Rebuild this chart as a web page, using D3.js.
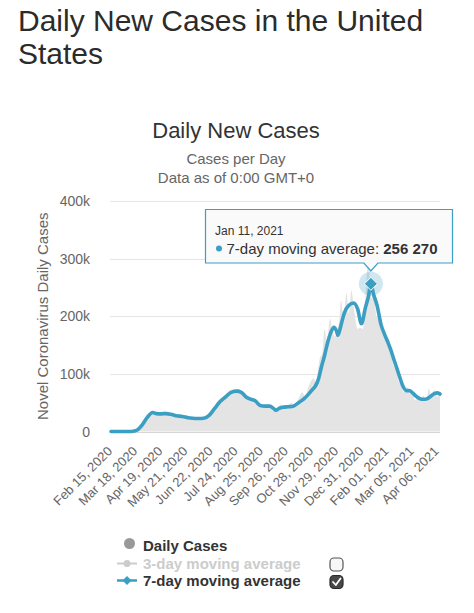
<!DOCTYPE html>
<html><head><meta charset="utf-8">
<script src="https://cdn.jsdelivr.net/npm/d3@7"></script>
<style>
html,body{margin:0;padding:0;background:#fff;}
svg{display:block;font-family:"Liberation Sans",Arial,Helvetica,sans-serif;}
</style></head><body>
<svg id="chart" width="474" height="613"></svg>
<script>
// ---- data ----
const avg7Dates = ["2020-02-15","2020-03-08","2020-03-16","2020-03-20","2020-03-26","2020-04-01","2020-04-08","2020-04-13","2020-04-19","2020-04-25","2020-05-01","2020-05-08","2020-05-16","2020-05-23","2020-05-29","2020-06-05","2020-06-12","2020-06-19","2020-06-26","2020-07-03","2020-07-10","2020-07-17","2020-07-24","2020-07-30","2020-08-05","2020-08-11","2020-08-17","2020-08-23","2020-08-29","2020-09-04","2020-09-09","2020-09-12","2020-09-16","2020-09-21","2020-09-28","2020-10-04","2020-10-12","2020-10-18","2020-10-23","2020-10-28","2020-11-01","2020-11-05","2020-11-09","2020-11-13","2020-11-17","2020-11-21","2020-11-25","2020-11-28","2020-11-30","2020-12-04","2020-12-08","2020-12-14","2020-12-20","2020-12-25","2020-12-30","2021-01-04","2021-01-08","2021-01-11","2021-01-14","2021-01-19","2021-01-24","2021-01-28","2021-02-01","2021-02-05","2021-02-09","2021-02-13","2021-02-17","2021-02-21","2021-02-25","2021-03-01","2021-03-05","2021-03-09","2021-03-13","2021-03-17","2021-03-21","2021-03-25","2021-03-29","2021-04-02","2021-04-06","2021-04-09"];
const avg7Values = [0,0,1000,3000,12000,24000,33000,31000,30500,31000,30000,27500,26000,24000,23000,22500,23000,28000,40000,52000,60000,68000,70000,68000,60000,56000,53000,45000,44000,44000,40000,37000,40000,42000,43000,44000,51000,57000,64000,72000,78000,90000,112000,132000,155000,172000,181000,175000,167000,185000,205000,219000,223000,213000,187000,215000,235000,256270,240000,218000,185000,170000,157000,143000,126000,110000,93000,78000,71000,71000,67000,62000,58000,56000,56000,58000,62000,66000,67000,65000];

const dailyDates = ["2020-02-15","2020-03-10","2020-03-20","2020-03-27","2020-04-03","2020-04-07","2020-04-10","2020-04-14","2020-04-18","2020-04-24","2020-04-28","2020-05-02","2020-05-08","2020-05-14","2020-05-20","2020-05-28","2020-06-04","2020-06-10","2020-06-18","2020-06-25","2020-07-02","2020-07-10","2020-07-16","2020-07-20","2020-07-24","2020-07-30","2020-08-04","2020-08-08","2020-08-14","2020-08-20","2020-08-26","2020-09-01","2020-09-05","2020-09-08","2020-09-14","2020-09-18","2020-09-25","2020-10-02","2020-10-05","2020-10-10","2020-10-16","2020-10-19","2020-10-24","2020-10-30","2020-11-02","2020-11-07","2020-11-10","2020-11-13","2020-11-16","2020-11-20","2020-11-23","2020-11-26","2020-11-28","2020-12-02","2020-12-04","2020-12-07","2020-12-11","2020-12-14","2020-12-17","2020-12-21","2020-12-25","2020-12-28","2021-01-01","2021-01-03","2021-01-08","2021-01-11","2021-01-15","2021-01-18","2021-01-21","2021-01-25","2021-01-29","2021-02-01","2021-02-05","2021-02-08","2021-02-12","2021-02-15","2021-02-19","2021-02-22","2021-02-26","2021-03-01","2021-03-05","2021-03-08","2021-03-12","2021-03-15","2021-03-19","2021-03-22","2021-03-26","2021-03-29","2021-04-02","2021-04-05","2021-04-09"];
const dailyValues = [0,0,5000,19000,31000,30000,35000,29000,33000,36000,28000,31000,28000,26000,24000,23000,24000,22500,29000,40000,54000,65000,72000,65000,74000,70000,58000,60000,57000,47000,44000,43000,47000,36000,39000,47000,44000,50000,44000,55000,68000,60000,80000,92000,86000,128000,135000,178000,158000,196000,175000,165000,168000,198000,228000,200000,240000,205000,245000,208000,178000,180000,178000,212000,300000,232000,240000,200000,195000,172000,165000,150000,140000,118000,108000,88000,80000,68000,78000,65000,68000,54000,62000,55000,62000,52000,75000,58000,72000,60000,68000];

const xTickLabels = ["Feb 15, 2020","Mar 18, 2020","Apr 19, 2020","May 21, 2020","Jun 22, 2020","Jul 24, 2020","Aug 25, 2020","Sep 26, 2020","Oct 28, 2020","Nov 29, 2020","Dec 31, 2020","Feb 01, 2021","Mar 05, 2021","Apr 06, 2021"];
const yTickValues = [0,100000,200000,300000,400000];
const legendLabels = ["Daily Cases","3-day moving average","7-day moving average"];
const tooltipDate = "Jan 11, 2021";
const tooltipSeries = "7-day moving average";
const tooltipValue = 256270;

// ---- drawing ----
const blue = "#3a9fc3";
const svg = d3.select("#chart");
const parse = d3.timeParse("%Y-%m-%d");
const parseTick = d3.timeParse("%b %d, %Y");

const avg7 = avg7Dates.map((d,i)=>({date:parse(d), v:avg7Values[i]}));
const daily = dailyDates.map((d,i)=>({date:parse(d), v:dailyValues[i]}));

const plotL = 110, plotR = 440, plotT = 201, plotB = 431.5;
const x = d3.scaleTime().domain(d3.extent(daily, d=>d.date)).range([plotL+1, plotR]);
const y = d3.scaleLinear().domain([0,400000]).range([plotB, plotT]);

// page title
svg.append("text").attr("x",18).attr("y",31).attr("font-size",30).attr("fill","#2b2b2b")
  .selectAll("tspan").data(["Daily New Cases in the United","States"]).join("tspan")
  .attr("x",18).attr("dy",(d,i)=>i?32.5:0).text(d=>d);

// chart title / subtitles
svg.append("text").attr("x",236).attr("y",138).attr("text-anchor","middle")
  .attr("font-size",22).attr("fill","#333").text("Daily New Cases");
svg.append("text").attr("x",236).attr("y",164).attr("text-anchor","middle")
  .attr("font-size",15).attr("fill","#666").text("Cases per Day");
svg.append("text").attr("x",236).attr("y",183).attr("text-anchor","middle")
  .attr("font-size",15).attr("fill","#666").text("Data as of 0:00 GMT+0");

// gridlines + y labels
const yg = svg.append("g");
yg.selectAll("line").data(yTickValues).join("line")
  .attr("x1",plotL).attr("x2",plotR)
  .attr("y1",d=>Math.round(y(d))+0.5).attr("y2",d=>Math.round(y(d))+0.5)
  .attr("stroke",d=>d===0?"#d6d6d6":"#e6e6e6").attr("stroke-width",1);
yg.selectAll("text").data(yTickValues).join("text")
  .attr("x",90).attr("y",d=>y(d)+5).attr("text-anchor","end")
  .attr("font-size",14).attr("fill","#666")
  .text(d=>d===0?"0":(d/1000)+"k");

// y axis title
svg.append("text").attr("transform",`translate(48,${(plotT+plotB)/2}) rotate(-90)`)
  .attr("text-anchor","middle").attr("font-size",15).attr("fill","#666")
  .text("Novel Coronavirus Daily Cases");

// x labels
svg.append("g").selectAll("text").data(xTickLabels).join("text")
  .attr("transform",d=>`translate(${x(parseTick(d))+2},452) rotate(-45)`)
  .attr("text-anchor","end").attr("font-size",13).attr("fill","#666").text(d=>d);

// daily cases area
const area = d3.area().x(d=>x(d.date)).y0(y(0)).y1(d=>y(d.v)).curve(d3.curveMonotoneX);
svg.append("path").datum(daily).attr("d",area).attr("fill","#e4e4e4");

// 7-day moving average line
const line = d3.line().x(d=>x(d.date)).y(d=>y(d.v)).curve(d3.curveMonotoneX);
svg.append("path").datum(avg7).attr("d",line).attr("fill","none")
  .attr("stroke",blue).attr("stroke-width",3.6).attr("stroke-linejoin","round").attr("stroke-linecap","round");

// hovered point
const peak = avg7.find(d=>d.v===tooltipValue);
const px = x(peak.date), py = y(peak.v);
svg.append("circle").attr("cx",px).attr("cy",py).attr("r",12).attr("fill",blue).attr("opacity",0.25);
const dia = (cx,cy,r)=>`M${cx},${cy-r}L${cx+r},${cy}L${cx},${cy+r}L${cx-r},${cy}Z`;
svg.append("path").attr("d",dia(px,py,6.5)).attr("fill",blue).attr("stroke","#fff").attr("stroke-width",1);

// tooltip
const tl=205.5, tt=209.5, tr=452.5, tb=263, tipY=271;
svg.append("path")
  .attr("d",`M${tl},${tt}H${tr}V${tb}H${px+7}L${px},${tipY}L${px-7},${tb}H${tl}Z`)
  .attr("fill","rgba(250,250,250,0.93)").attr("stroke",blue).attr("stroke-width",1.2);
svg.append("text").attr("x",215).attr("y",235).attr("font-size",12).attr("fill","#333").text(tooltipDate);
svg.append("circle").attr("cx",219).attr("cy",248.5).attr("r",3).attr("fill",blue);
const tt2 = svg.append("text").attr("x",226.5).attr("y",253.5).attr("font-size",15).attr("fill","#333");
tt2.append("tspan").text(tooltipSeries+": ");
tt2.append("tspan").attr("font-weight","bold").text(d3.format(",")(tooltipValue).replace(/,/g," "));

// legend
const lg = svg.append("g").attr("font-size",15).attr("font-weight","bold");
lg.append("circle").attr("cx",129.5).attr("cy",543.5).attr("r",5.5).attr("fill","#999");
lg.append("text").attr("x",143).attr("y",550.5).attr("fill","#333").text(legendLabels[0]);
lg.append("line").attr("x1",117).attr("x2",137).attr("y1",563.5).attr("y2",563.5).attr("stroke","#ccc").attr("stroke-width",2);
lg.append("circle").attr("cx",127).attr("cy",563.5).attr("r",3.5).attr("fill","#ccc");
lg.append("text").attr("x",143).attr("y",568.5).attr("fill","#ccc").text(legendLabels[1]);
lg.append("line").attr("x1",117).attr("x2",137).attr("y1",580.5).attr("y2",580.5).attr("stroke",blue).attr("stroke-width",2.5);
lg.append("path").attr("d",dia(127,580.5,4.5)).attr("fill",blue);
lg.append("text").attr("x",143).attr("y",585.5).attr("fill","#333").text(legendLabels[2]);
// checkboxes
lg.append("rect").attr("x",330).attr("y",558).attr("width",13).attr("height",13).attr("rx",4)
  .attr("fill","#f7f7f7").attr("stroke","#555").attr("stroke-width",1.2);
lg.append("rect").attr("x",330).attr("y",575.5).attr("width",13).attr("height",13).attr("rx",4)
  .attr("fill","#484848").attr("stroke","#2a2a2a").attr("stroke-width",1.2);
lg.append("path").attr("d","M333,582 L335.8,585 L340.5,578.5").attr("fill","none")
  .attr("stroke","#fff").attr("stroke-width",1.8).attr("stroke-linecap","round").attr("stroke-linejoin","round");
</script>
</body></html>
